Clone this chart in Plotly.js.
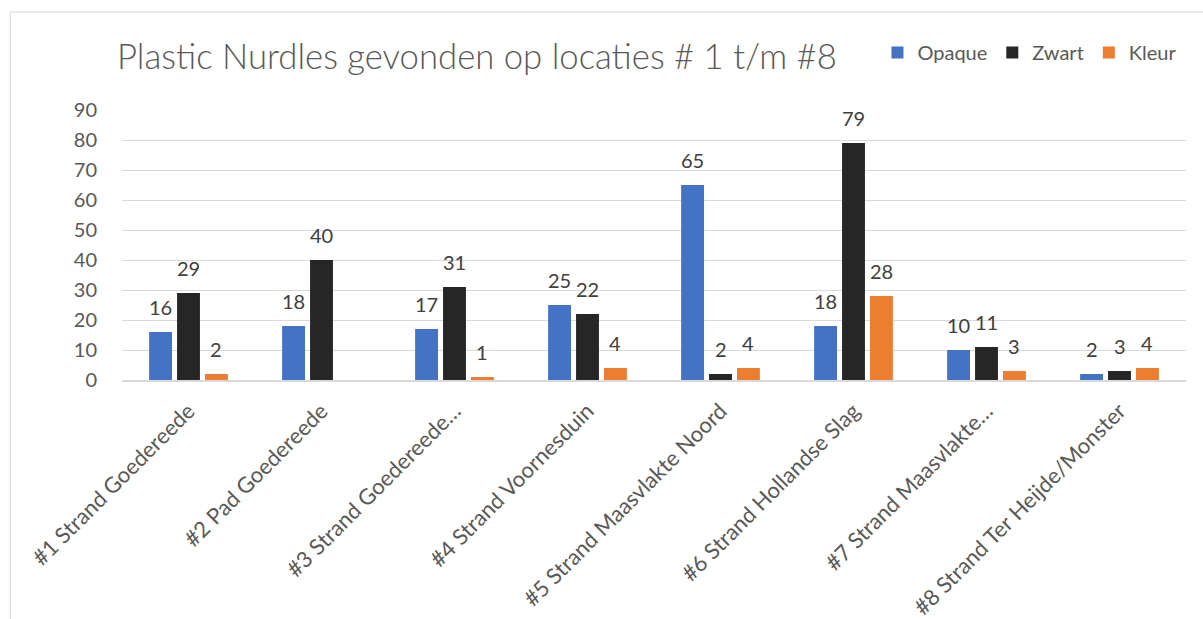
<!DOCTYPE html>
<html>
<head>
<meta charset="utf-8">
<script src="https://cdn.plot.ly/plotly-3.0.1.min.js"></script>
<style>
html,body{margin:0;padding:0;background:#fff;}
#chart{width:1203px;height:619px;}
</style>
</head>
<body>
<div id="chart"></div>
<script>
const categories = [
  "#1 Strand Goedereede",
  "#2 Pad Goedereede",
  "#3 Strand Goedereede…",
  "#4 Strand Voornesduin",
  "#5 Strand Maasvlakte Noord",
  "#6 Strand Hollandse Slag",
  "#7 Strand Maasvlakte…",
  "#8 Strand Ter Heijde/Monster"
];
const seriesNames = ["Opaque", "Zwart", "Kleur"];
const opaque = [16, 18, 17, 25, 65, 18, 10, 2];
const zwart  = [29, 40, 31, 22, 2, 79, 11, 3];
const kleur  = [2, null, 1, 4, 4, 28, 3, 4];
const yTicks = [0, 10, 20, 30, 40, 50, 60, 70, 80, 90];

const FONT = "Lato, 'Open Sans', sans-serif";
const colors = ["#4472C4", "#262626", "#ED7D31"];
const allVals = [opaque, zwart, kleur];

const W = 1203, H = 619;
const margin = {l: 122, r: 17, t: 110, b: 239};
const bargap = 0.37, bargroupgap = 0.18;

const data = allVals.map((vals, i) => ({
  type: "bar", name: seriesNames[i], x: categories, y: vals,
  marker: {color: colors[i]},
  hoverinfo: "x+y+name"
}));

// data labels above each bar, placed via the axes
const catWidth = (W - margin.l - margin.r) / categories.length;
const slot = catWidth * (1 - bargap) / allVals.length;
const annotations = [];
allVals.forEach((vals, i) => {
  vals.forEach((v, j) => {
    if (v === null) return;
    annotations.push({
      x: categories[j], y: v, xref: "x", yref: "y",
      text: String(v), showarrow: false,
      xshift: (i - 1) * slot, yshift: 25, yanchor: "middle",
      font: {family: FONT, size: 20, color: "#404040"}
    });
  });
});

const layout = {
  width: W, height: H,
  margin: margin,
  paper_bgcolor: "#fff", plot_bgcolor: "#fff",
  font: {family: FONT, color: "#595959"},
  title: {
    text: "Plastic Nurdles gevonden op locaties # 1 t/m #8",
    font: {family: FONT, size: 34.7, color: "#595959", weight: 300},
    x: 117/W, xref: "container", xanchor: "left",
    y: 1 - 57/H, yref: "container", yanchor: "middle"
  },
  barmode: "group",
  bargap: bargap,
  bargroupgap: bargroupgap,
  showlegend: true,
  legend: {
    orientation: "h", x: 0.71, xanchor: "left", y: 1.213, yanchor: "middle",
    font: {family: FONT, size: 20, color: "#595959"},
    itemwidth: 30, tracegroupgap: 0
  },
  xaxis: {
    type: "category", tickangle: -45, showgrid: false,
    showline: true, linecolor: "#D9D9D9", linewidth: 1.5,
    ticks: "", tickfont: {family: FONT, size: 22, color: "#595959"},
    ticklabelstandoff: 8,
    automargin: false
  },
  yaxis: {
    range: [0, 90], tickvals: yTicks, ticktext: yTicks.map(String),
    showgrid: true, gridcolor: "#D9D9D9", gridwidth: 1,
    zeroline: false, showline: false, ticks: "",
    tickfont: {family: FONT, size: 20, color: "#595959"},
    ticklabelstandoff: 24, automargin: false
  },
  annotations: annotations,
  shapes: [{
    type: "rect", xref: "paper", yref: "paper",
    x0: -0.105, x1: 1.2, y0: -1.2, y1: 1.363,
    line: {color: "#D9D9D9", width: 1}, fillcolor: "rgba(0,0,0,0)", layer: "below"
  }]
};
Plotly.newPlot("chart", data, layout, {displayModeBar: false, staticPlot: true});
</script>
</body>
</html>
